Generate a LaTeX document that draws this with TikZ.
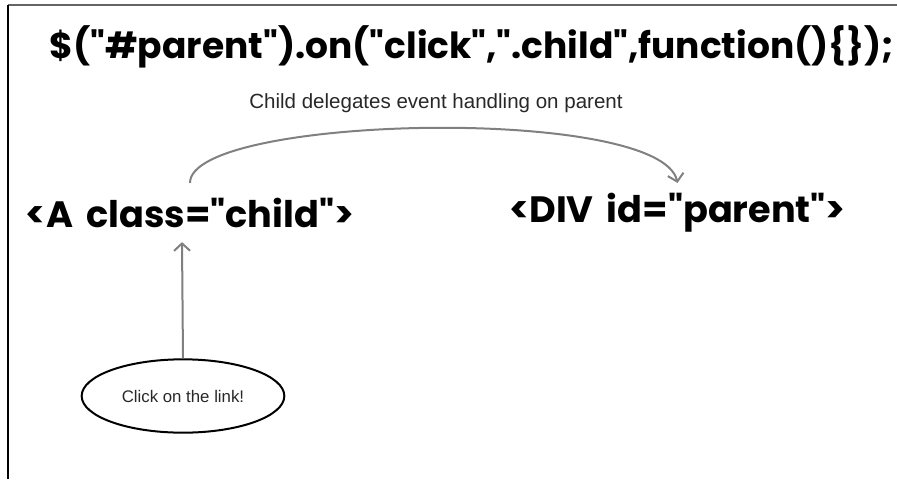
\documentclass[tikz,border=0pt]{standalone}
\usepackage{fontspec}
\setmainfont{Liberation Sans}
\newfontfamily\comicfont{Poppins}[WordSpace=1.7]
\usetikzlibrary{arrows.meta,positioning,shapes.geometric}
\definecolor{linegray}{RGB}{128,128,128}
\definecolor{framegray}{RGB}{100,100,100}
\definecolor{notetext}{RGB}{40,40,40}

\begin{document}
\begin{tikzpicture}[x=0.75pt,y=-0.75pt,
  code/.style={font=\comicfont\bfseries\fontsize{27pt}{32pt}\selectfont, inner sep=0pt},
  tag/.style={code, font=\comicfont\bfseries\fontsize{27.5pt}{32pt}\selectfont, minimum height=44pt},
  conn/.style={draw=linegray, line width=1.5pt, -{Straight Barb[length=5.5pt,width=12pt]}},
]
\useasboundingbox (0,0) rectangle (897,479);
% Frame
\draw[framegray, line width=1.5pt] (8,5) -- (897,5);
\draw[black, line width=1.2pt] (8,5) -- (8,479);
% Call and note
\node[code] (call) at (472,47) {\$("\#parent").on("click",".child",function()\{\});};
\node[font=\fontsize{15.4pt}{18pt}\selectfont, text=notetext] (note) at (436,103) {Child delegates event handling on parent};
% Tags
\node[tag] (child) at (190,212.5) {<A class="child">};
\node[tag] (parent) at (677.5,212.5) {<DIV id="parent">};
% Click bubble
\node[ellipse, draw, line width=1.5pt, minimum width=152pt, minimum height=55pt,
  font=\fontsize{12.6pt}{15pt}\selectfont, text=notetext] (click) at (183,396) {Click on the link!};
% Connectors
\draw[conn] (child.north) .. controls +(0,-68) and +(-17,-78) .. (parent.north);
\draw[conn] (click.north) -- ([xshift=-6pt]child.south);
\end{tikzpicture}
\end{document}
